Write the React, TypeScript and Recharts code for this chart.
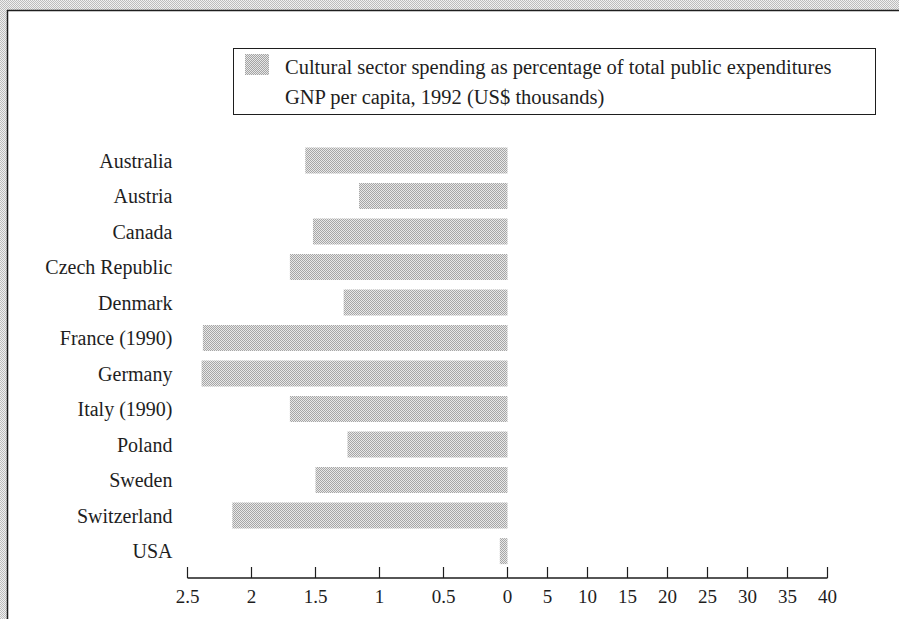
import React from "react";
import { Bar, BarChart, XAxis, YAxis } from "recharts";

const countries = [
  "Australia",
  "Austria",
  "Canada",
  "Czech Republic",
  "Denmark",
  "France (1990)",
  "Germany",
  "Italy (1990)",
  "Poland",
  "Sweden",
  "Switzerland",
  "USA",
];
const culturalShare = [1.58, 1.16, 1.52, 1.7, 1.28, 2.38, 2.39, 1.7, 1.25, 1.5, 2.15, 0.06];
const shareTicks = [0, 0.5, 1, 1.5, 2, 2.5];
const gnpTicks = [5, 10, 15, 20, 25, 30, 35, 40];

const legendLabels = [
  "Cultural sector spending as percentage of total public expenditures",
  "GNP per capita, 1992 (US$ thousands)",
];

const data = countries.map((country, i) => ({ country, share: culturalShare[i] }));

const serif = "'Liberation Serif', 'DejaVu Serif', serif";
const ink = "#1e1e1e";

function AxisTick({ x, y, payload }: any) {
  return (
    <g>
      <line x1={x} x2={x} y1={y - 11} y2={y} stroke={ink} strokeWidth={1.2} />
      <text x={x} y={y + 25} textAnchor="middle" fontFamily={serif} fontSize={19} fill={ink}>
        {payload.value}
      </text>
    </g>
  );
}

function Halftone({ id, bg, dot }: { id: string; bg: string; dot: string }) {
  return (
    <pattern id={id} width={2} height={2} patternUnits="userSpaceOnUse">
      <rect width={2} height={2} fill={bg} />
      <rect x={0} y={0} width={1} height={1} fill={dot} />
      <rect x={1} y={1} width={1} height={1} fill={dot} />
    </pattern>
  );
}

export default function App() {
  return (
    <div style={{ position: "absolute", left: 0, top: 0, width: 899, height: 619, background: "#fff", overflow: "hidden" }}>
      {/* scanned page edge */}
      <svg width={899} height={619} style={{ position: "absolute", left: 0, top: 0 }}>
        <defs>
          <Halftone id="edge" bg="#f0f0f0" dot="#bdbdbd" />
        </defs>
        <rect x={0} y={0} width={899} height={10} fill="url(#edge)" />
        <rect x={0} y={0} width={7} height={619} fill="url(#edge)" />
        <line x1={7} x2={899} y1={10.5} y2={10.5} stroke={ink} strokeWidth={1.5} />
        <line x1={7.5} x2={7.5} y1={10} y2={619} stroke={ink} strokeWidth={1.5} />
      </svg>

      <div style={{ position: "absolute", left: 0, top: 0 }}>
        <BarChart
          width={899}
          height={619}
          data={data}
          layout="vertical"
          margin={{ top: 143, right: 391.5, bottom: 0, left: 0 }}
          barCategoryGap="13%"
        >
          <defs>
            <Halftone id="shade" bg="#e8e8e8" dot="#a6a6a6" />
          </defs>
          <XAxis
            type="number"
            domain={[0, 2.5]}
            ticks={shareTicks}
            reversed
            height={41}
            tickSize={0}
            tickMargin={0}
            tickLine={false}
            tick={<AxisTick />}
            axisLine={{ stroke: ink, strokeWidth: 1.5 }}
            interval={0}
          />
          <YAxis
            type="category"
            dataKey="country"
            width={187.5}
            padding={{ top: 0, bottom: 9 }}
            axisLine={false}
            tickLine={false}
            tickSize={0}
            tickMargin={15}
            interval={0}
            tick={{ fill: ink, fontSize: 20, fontFamily: serif }}
          />
          <Bar dataKey="share" fill="url(#shade)" isAnimationActive={false} />
        </BarChart>
      </div>

      <div style={{ position: "absolute", left: 0, top: 0 }}>
        <BarChart
          width={899}
          height={619}
          data={data}
          layout="vertical"
          margin={{ top: 143, right: 71.5, bottom: 0, left: 507.5 }}
        >
          <XAxis
            type="number"
            domain={[0, 40]}
            allowDataOverflow
            ticks={gnpTicks}
            height={41}
            tickSize={0}
            tickMargin={0}
            tickLine={false}
            tick={<AxisTick />}
            axisLine={{ stroke: ink, strokeWidth: 1.5 }}
            interval={0}
          />
          <YAxis type="category" dataKey="country" hide width={0} />
          {/* GNP values are not legible in the source, so this series stays empty */}
          <Bar dataKey="gnp" fill="#fff" isAnimationActive={false} />
        </BarChart>
      </div>

      <div
        style={{
          position: "absolute",
          left: 233,
          top: 48,
          width: 643,
          height: 67,
          border: `1.5px solid ${ink}`,
          boxSizing: "border-box",
          fontFamily: serif,
          fontSize: 20.5,
          color: ink,
          background: "#fff",
        }}
      >
        <svg width={24} height={21} style={{ position: "absolute", left: 11, top: 5 }}>
          <defs>
            <Halftone id="swatch" bg="#e6e6e6" dot="#a4a4a4" />
          </defs>
          <rect width={24} height={21} fill="url(#swatch)" />
        </svg>
        <div style={{ position: "absolute", left: 51, top: 7, whiteSpace: "nowrap" }}>{legendLabels[0]}</div>
        <div style={{ position: "absolute", left: 51, top: 37, whiteSpace: "nowrap" }}>{legendLabels[1]}</div>
      </div>
    </div>
  );
}
